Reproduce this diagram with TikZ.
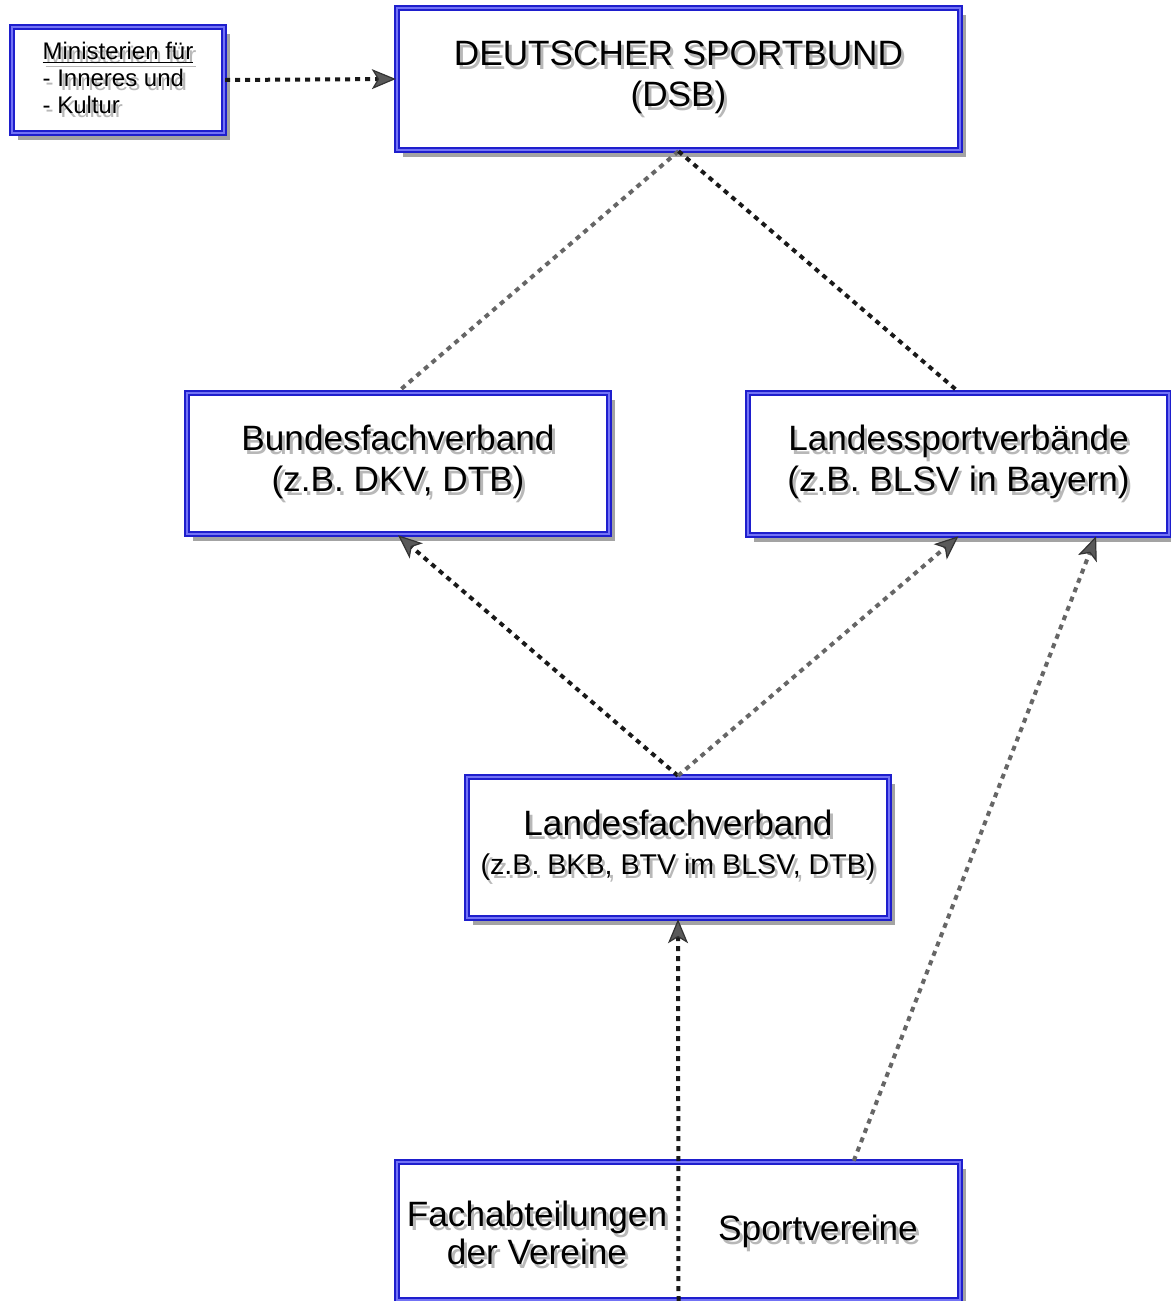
\documentclass[tikz,border=0pt]{standalone}
\usepackage{fontspec}
\setmainfont{Liberation Sans}
\usetikzlibrary{arrows.meta,shadows,calc}
\definecolor{boxblue}{RGB}{30,30,205}
\definecolor{boxlight}{RGB}{115,115,245}
\newcommand\sht[1]{\leavevmode\rlap{\kern1.5pt\raisebox{-2pt}{\color{black!28}#1}}#1}
\begin{document}
\begin{tikzpicture}[x=0.5pt,y=-0.5pt,
  box/.style={draw=boxblue, line width=1.2pt, double=boxlight, double distance=0.9pt,
    fill=white, drop shadow={shadow xshift=3pt, shadow yshift=-3.5pt, fill=black!60, opacity=0.6},
    inner sep=0pt, align=center, font=\fontsize{17.6}{20.5}\selectfont},
  lbl/.style={inner sep=0pt, align=center, font=\fontsize{17.6}{19}\selectfont},
  conn/.style={line width=2pt, dash pattern=on 2.5pt off 2.5pt, black!90},
  light/.style={conn, black!60},
  tip/.style={-{Stealth[length=12pt,width=10pt,inset=3pt,line width=0.6pt,fill=black!65,color=black!80]}}
]
\useasboundingbox (0,0) rectangle (1171,1301);
\fill[white] (0,0) rectangle (1171,1301);

\node[box, minimum width=106pt, minimum height=53pt, align=left, font=\fontsize{12}{13.5}\selectfont]
  (min) at (118,80) {\sht{\underline{Ministerien für}}\\\sht{- Inneres und}\\\sht{- Kultur}};
\node[box, minimum width=281.5pt, minimum height=71pt] (dsb) at (678.5,79)
  {\sht{DEUTSCHER SPORTBUND}\\\sht{(DSB)}};
\node[box, minimum width=211pt, minimum height=70.5pt] (bfv) at (398,463.5)
  {\sht{Bundesfachverband}\\\sht{(z.B. DKV, DTB)}};
\node[box, minimum width=210.5pt, minimum height=71pt] (lsv) at (958.5,464)
  {\sht{Landessportverbände}\\\sht{(z.B. BLSV in Bayern)}};
\node[box, minimum width=211pt, minimum height=70.5pt] (lfv) at (678,847.5)
  {\sht{Landesfachverband}\\[-1pt]{\fontsize{14.3}{17}\selectfont\sht{(z.B. BKB, BTV im BLSV, DTB)}}};
\node[box, minimum width=281.5pt, minimum height=69pt] (bot) at (678.5,1231) {};
\node[lbl] (fa) at (537,1235) {\sht{Fachabteilungen}\\\sht{der Vereine}};
\node[lbl] (sv) at (818,1233) {\sht{Sportvereine}};

\draw[conn, tip] (min.east) -- (dsb.west);
\draw[light] (dsb.south) -- (bfv.north);
\draw[conn] (dsb.south) -- (lsv.north);
\draw[conn, tip] (lfv.north) -- (bfv.south);
\draw[light, tip] (lfv.north) -- (lsv.south);
\draw[conn, tip] (bot.south) -- (lfv.south);
\draw[light, tip] ($(bot.north)!0.62!(bot.north east)$) -- ($(lsv.south)!0.65!(lsv.south east)$);
\end{tikzpicture}
\end{document}
